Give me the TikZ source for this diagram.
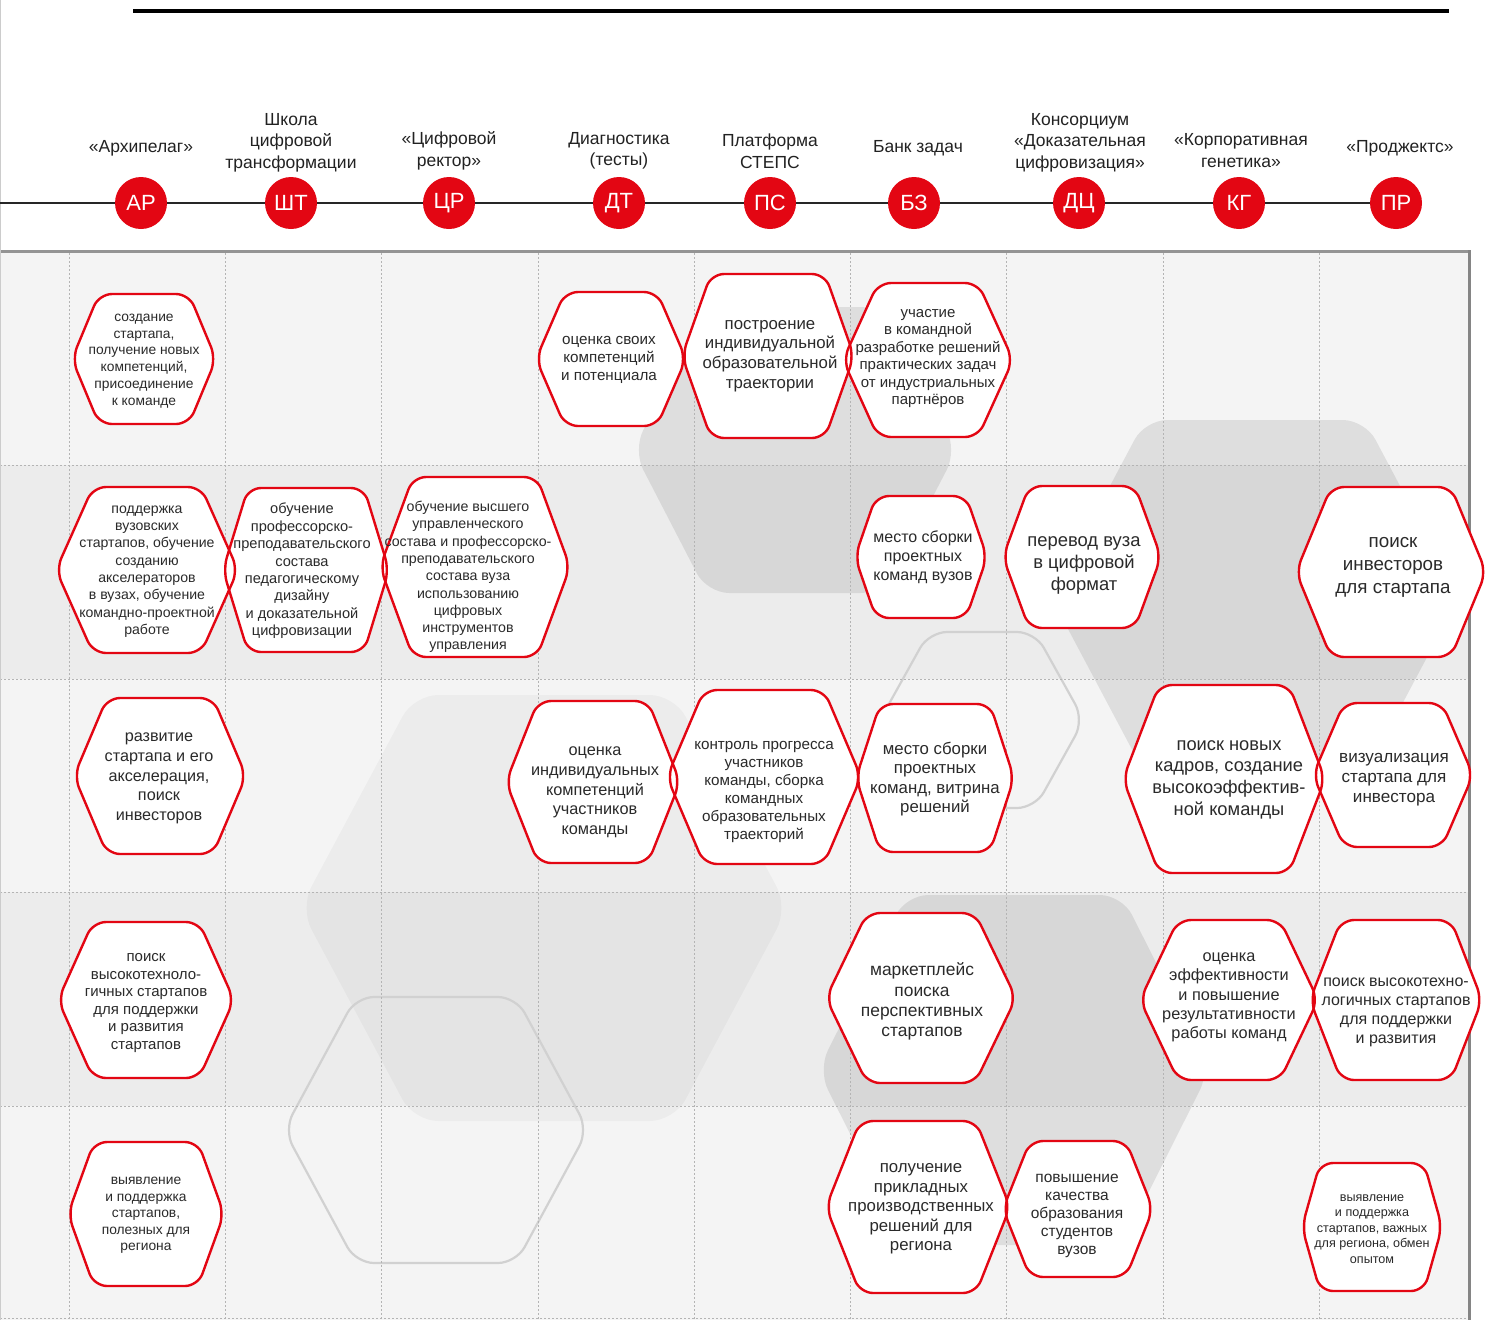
\documentclass[tikz,border=0pt]{standalone}
\usepackage{fontspec}
\setmainfont{Liberation Sans}
\definecolor{cred}{RGB}{227,6,19}
\definecolor{ctext}{HTML}{2A2A2A}
\definecolor{chead}{HTML}{222222}
\definecolor{rowA}{HTML}{F4F4F4}
\definecolor{rowB}{HTML}{ECECEC}
\definecolor{cdash}{HTML}{B4B4B4}
\newcommand\hexshape[6]{%
 \path[#1] ({#2},{#3-#5}) -- ({#2+#6},{#3-#5}) -- ({#2+#4},{#3}) -- ({#2+#6},{#3+#5}) -- ({#2-#6},{#3+#5}) -- ({#2-#4},{#3}) -- ({#2-#6},{#3-#5}) -- cycle;}
\newcommand\allhex[1]{%
 \hexshape{#1}{144}{359}{72}{65}{45}
 \hexshape{#1}{611}{359}{75}{67}{46}
 \hexshape{#1}{768}{356}{86}{82}{57}
 \hexshape{#1}{928}{360}{85}{77}{50}
 \hexshape{#1}{147}{570}{91}{83}{54}
 \hexshape{#1}{306}{570}{83}{82}{58}
 \hexshape{#1}{475}{567}{95}{90}{62}
 \hexshape{#1}{921}{557}{66}{61}{45}
 \hexshape{#1}{1082}{557}{79}{71}{53}
 \hexshape{#1}{1391}{572}{95}{85}{60}
 \hexshape{#1}{160}{776}{86}{78}{53}
 \hexshape{#1}{593}{782}{87}{81}{55}
 \hexshape{#1}{764}{777}{97}{87}{60}
 \hexshape{#1}{935}{778}{79}{74}{55}
 \hexshape{#1}{1224}{779}{101}{94}{65}
 \hexshape{#1}{1393}{775}{80}{72}{49}
 \hexshape{#1}{146}{1000}{88}{78}{53}
 \hexshape{#1}{921}{998}{95}{85}{54}
 \hexshape{#1}{1229}{1000}{89}{80}{51}
 \hexshape{#1}{1396}{1000}{86}{80}{55}
 \hexshape{#1}{146}{1214}{78}{72}{52}
 \hexshape{#1}{918}{1207}{92}{86}{58}
 \hexshape{#1}{1078}{1209}{75}{68}{48}
 \hexshape{#1}{1372}{1227}{70}{64}{52}
}
\tikzset{
 redfill/.style={fill=white, rounded corners=13pt},
 redline/.style={draw=cred, line width=2.4pt, rounded corners=13pt},
 bgdark/.style={fill=black, fill opacity=0.085, rounded corners=22pt},
 bglight/.style={fill=black, fill opacity=0.03, rounded corners=24pt},
 bgline/.style={draw=black!18, line width=2.2pt, rounded corners=18pt},
 gridline/.style={draw=cdash, line width=0.8pt, dash pattern=on 2pt off 2pt},
 ht/.style={align=center, text=ctext, inner sep=0pt, yshift=-3pt},
 hd/.style={align=center, text=chead, inner sep=0pt, yshift=-2pt, font={\fontsize{17.5pt}{21.5pt}\selectfont}},
 circ/.style={circle, fill=cred, minimum size=52pt, inner sep=0pt, text=white, font={\fontsize{22pt}{24pt}\selectfont}}
}
\begin{document}
\begin{tikzpicture}[x=1pt,y=-1pt]
\useasboundingbox (0,0) rectangle (1486,1320);
\fill[white] (0,0) rectangle (1486,1320);
% rows
\fill[rowA] (0,251) rectangle (1469,465);
\fill[rowB] (0,465) rectangle (1469,679);
\fill[rowA] (0,679) rectangle (1469,892);
\fill[rowB] (0,892) rectangle (1469,1106);
\fill[rowA] (0,1106) rectangle (1469,1320);
% background hexagons
\hexshape{bgdark}{795}{450}{162}{143}{88}
\hexshape{bgdark}{1255}{597}{204}{177}{110}
\hexshape{bglight}{544}{908}{244}{213}{130}
\hexshape{bgdark}{1014}{1070}{196}{175}{108}
\hexshape{bgline}{436}{1130}{152}{133}{80}
\hexshape{bgline}{982}{720}{102}{88}{53}
% grid
\foreach \yy in {465,679,892,1106,1318} \draw[gridline] (0,\yy) -- (1468,\yy);
\foreach \xx in {69,225.3,381.6,537.9,694.2,850.5,1006.8,1163.1,1319.4} \draw[gridline] (\xx,253) -- (\xx,1320);
% frame
\draw[draw=black!42, line width=3pt] (0,251) -- (1471,251);
\draw[draw=black!48, line width=3pt] (1469.5,250) -- (1469.5,1320);
\draw[draw=black!20, line width=1pt] (0.5,0) -- (0.5,1320);
% top line and timeline
\coordinate (topL) at (133,11);
\coordinate (topR) at (1449,11);
\draw[line width=4pt, black] (topL) -- (topR);
\coordinate (tlL) at (0,203);
\coordinate (tlR) at (1396,203);
\draw[line width=2pt, black!85] (tlL) -- (tlR);
\node[circ] (c1) at (141,203) {АР};
\node[circ] (c2) at (291,203) {ШТ};
\node[circ] (c3) at (449,203) {ЦР};
\node[circ] (c4) at (619,203) {ДТ};
\node[circ] (c5) at (770,203) {ПС};
\node[circ] (c6) at (914,203) {БЗ};
\node[circ] (c7) at (1079,203) {ДЦ};
\node[circ] (c8) at (1239,203) {КГ};
\node[circ] (c9) at (1396,203) {ПР};
\node[hd] (l1) at (141,146) {«Архипелаг»};
\node[hd] (l2) at (291,140.5) {Школа\\цифровой\\трансформации};
\node[hd] (l3) at (449,149) {«Цифровой\\ректор»};
\node[hd] (l4) at (619,149) {Диагностика\\(тесты)};
\node[hd] (l5) at (770,149) {Платформа\\СТЕПС};
\node[hd] (l6) at (918,146) {Банк задач};
\node[hd] (l7) at (1080,140.5) {Консорциум\\«Доказательная\\цифровизация»};
\node[hd] (l8) at (1241,148.5) {«Корпоративная\\генетика»};
\node[hd] (l9) at (1400,146) {«Проджектс»};
% red hexagons
\allhex{redfill}
\allhex{redline}
% texts
\node[ht, font={\fontsize{13.8pt}{16.7pt}\selectfont}] (t1) at (144,358) {создание\\стартапа,\\получение новых\\компетенций,\\присоединение\\к команде};
\node[ht, font={\fontsize{15.2pt}{18pt}\selectfont}] (t2) at (609,357) {оценка своих\\компетенций\\и потенциала};
\node[ht, font={\fontsize{16.8pt}{19.7pt}\selectfont}] (t3) at (770,353) {построение\\индивидуальной\\образовательной\\траектории};
\node[ht, font={\fontsize{15pt}{17.4pt}\selectfont}] (t4) at (928,355.5) {участие\\в командной\\разработке решений\\практических задач\\от индустриальных\\партнёров};
\node[ht, font={\fontsize{14.1pt}{17.3pt}\selectfont}] (t5) at (147,568.5) {поддержка\\вузовских\\стартапов, обучение\\созданию\\акселераторов\\в вузах, обучение\\командно-проектной\\работе};
\node[ht, font={\fontsize{14.6pt}{17.4pt}\selectfont}] (t6) at (302,568) {обучение\\профессорско-\\преподавательского\\состава\\педагогическому\\дизайну\\и доказательной\\цифровизации};
\node[ht, font={\fontsize{14.2pt}{17.3pt}\selectfont}] (t7) at (468,574) {обучение высшего\\управленческого\\состава и профессорско-\\преподавательского\\состава вуза\\использованию\\цифровых\\инструментов\\управления};
\node[ht, font={\fontsize{16pt}{19pt}\selectfont}] (t8) at (923,554) {место сборки\\проектных\\команд вузов};
\node[ht, font={\fontsize{18.4pt}{22pt}\selectfont}] (t9) at (1084,562) {перевод вуза\\в цифровой\\формат};
\node[ht, font={\fontsize{18.8pt}{23pt}\selectfont}] (t10) at (1393,564) {поиск\\инвесторов\\для стартапа};
\node[ht, font={\fontsize{16.2pt}{19.8pt}\selectfont}] (t11) at (159,775.5) {развитие\\стартапа и его\\акселерация,\\поиск\\инвесторов};
\node[ht, font={\fontsize{16.3pt}{19.7pt}\selectfont}] (t12) at (595,789.5) {оценка\\индивидуальных\\компетенций\\участников\\команды};
\node[ht, font={\fontsize{15.2pt}{18pt}\selectfont}] (t13) at (764,789) {контроль прогресса\\участников\\команды, сборка\\командных\\образовательных\\траекторий};
\node[ht, font={\fontsize{16.8pt}{19.5pt}\selectfont}] (t14) at (935,776) {место сборки\\проектных\\команд, витрина\\решений};
\node[ht, font={\fontsize{18.3pt}{21.7pt}\selectfont}] (t15) at (1229,776.5) {поиск новых\\кадров, создание\\высокоэффектив-\\ной команды};
\node[ht, font={\fontsize{17.1pt}{20pt}\selectfont}] (t16) at (1394,777) {визуализация\\стартапа для\\инвестора};
\node[ht, font={\fontsize{15pt}{17.6pt}\selectfont}] (t17) at (146,1000) {поиск\\высокотехноло-\\гичных стартапов\\для поддержки\\и развития\\стартапов};
\node[ht, font={\fontsize{17.4pt}{20.3pt}\selectfont}] (t18) at (922,998.5) {маркетплейс\\поиска\\перспективных\\стартапов};
\node[ht, font={\fontsize{16.3pt}{19.3pt}\selectfont}] (t19) at (1229,994.5) {оценка\\эффективности\\и повышение\\результативности\\работы команд};
\node[ht, font={\fontsize{16pt}{19pt}\selectfont}] (t20) at (1396,1009.5) {поиск высокотехно-\\логичных стартапов\\для поддержки\\и развития};
\node[ht, font={\fontsize{13.8pt}{16.4pt}\selectfont}] (t21) at (146,1212.5) {выявление\\и поддержка\\стартапов,\\полезных для\\региона};
\node[ht, font={\fontsize{16.8pt}{19.5pt}\selectfont}] (t22) at (921,1206) {получение\\прикладных\\производственных\\решений для\\региона};
\node[ht, font={\fontsize{15.5pt}{18pt}\selectfont}] (t23) at (1077,1213) {повышение\\качества\\образования\\студентов\\вузов};
\node[ht, font={\fontsize{12.6pt}{15.5pt}\selectfont}] (t24) at (1372,1226) {выявление\\и поддержка\\стартапов, важных\\для региона, обмен\\опытом};
\end{tikzpicture}
\end{document}
